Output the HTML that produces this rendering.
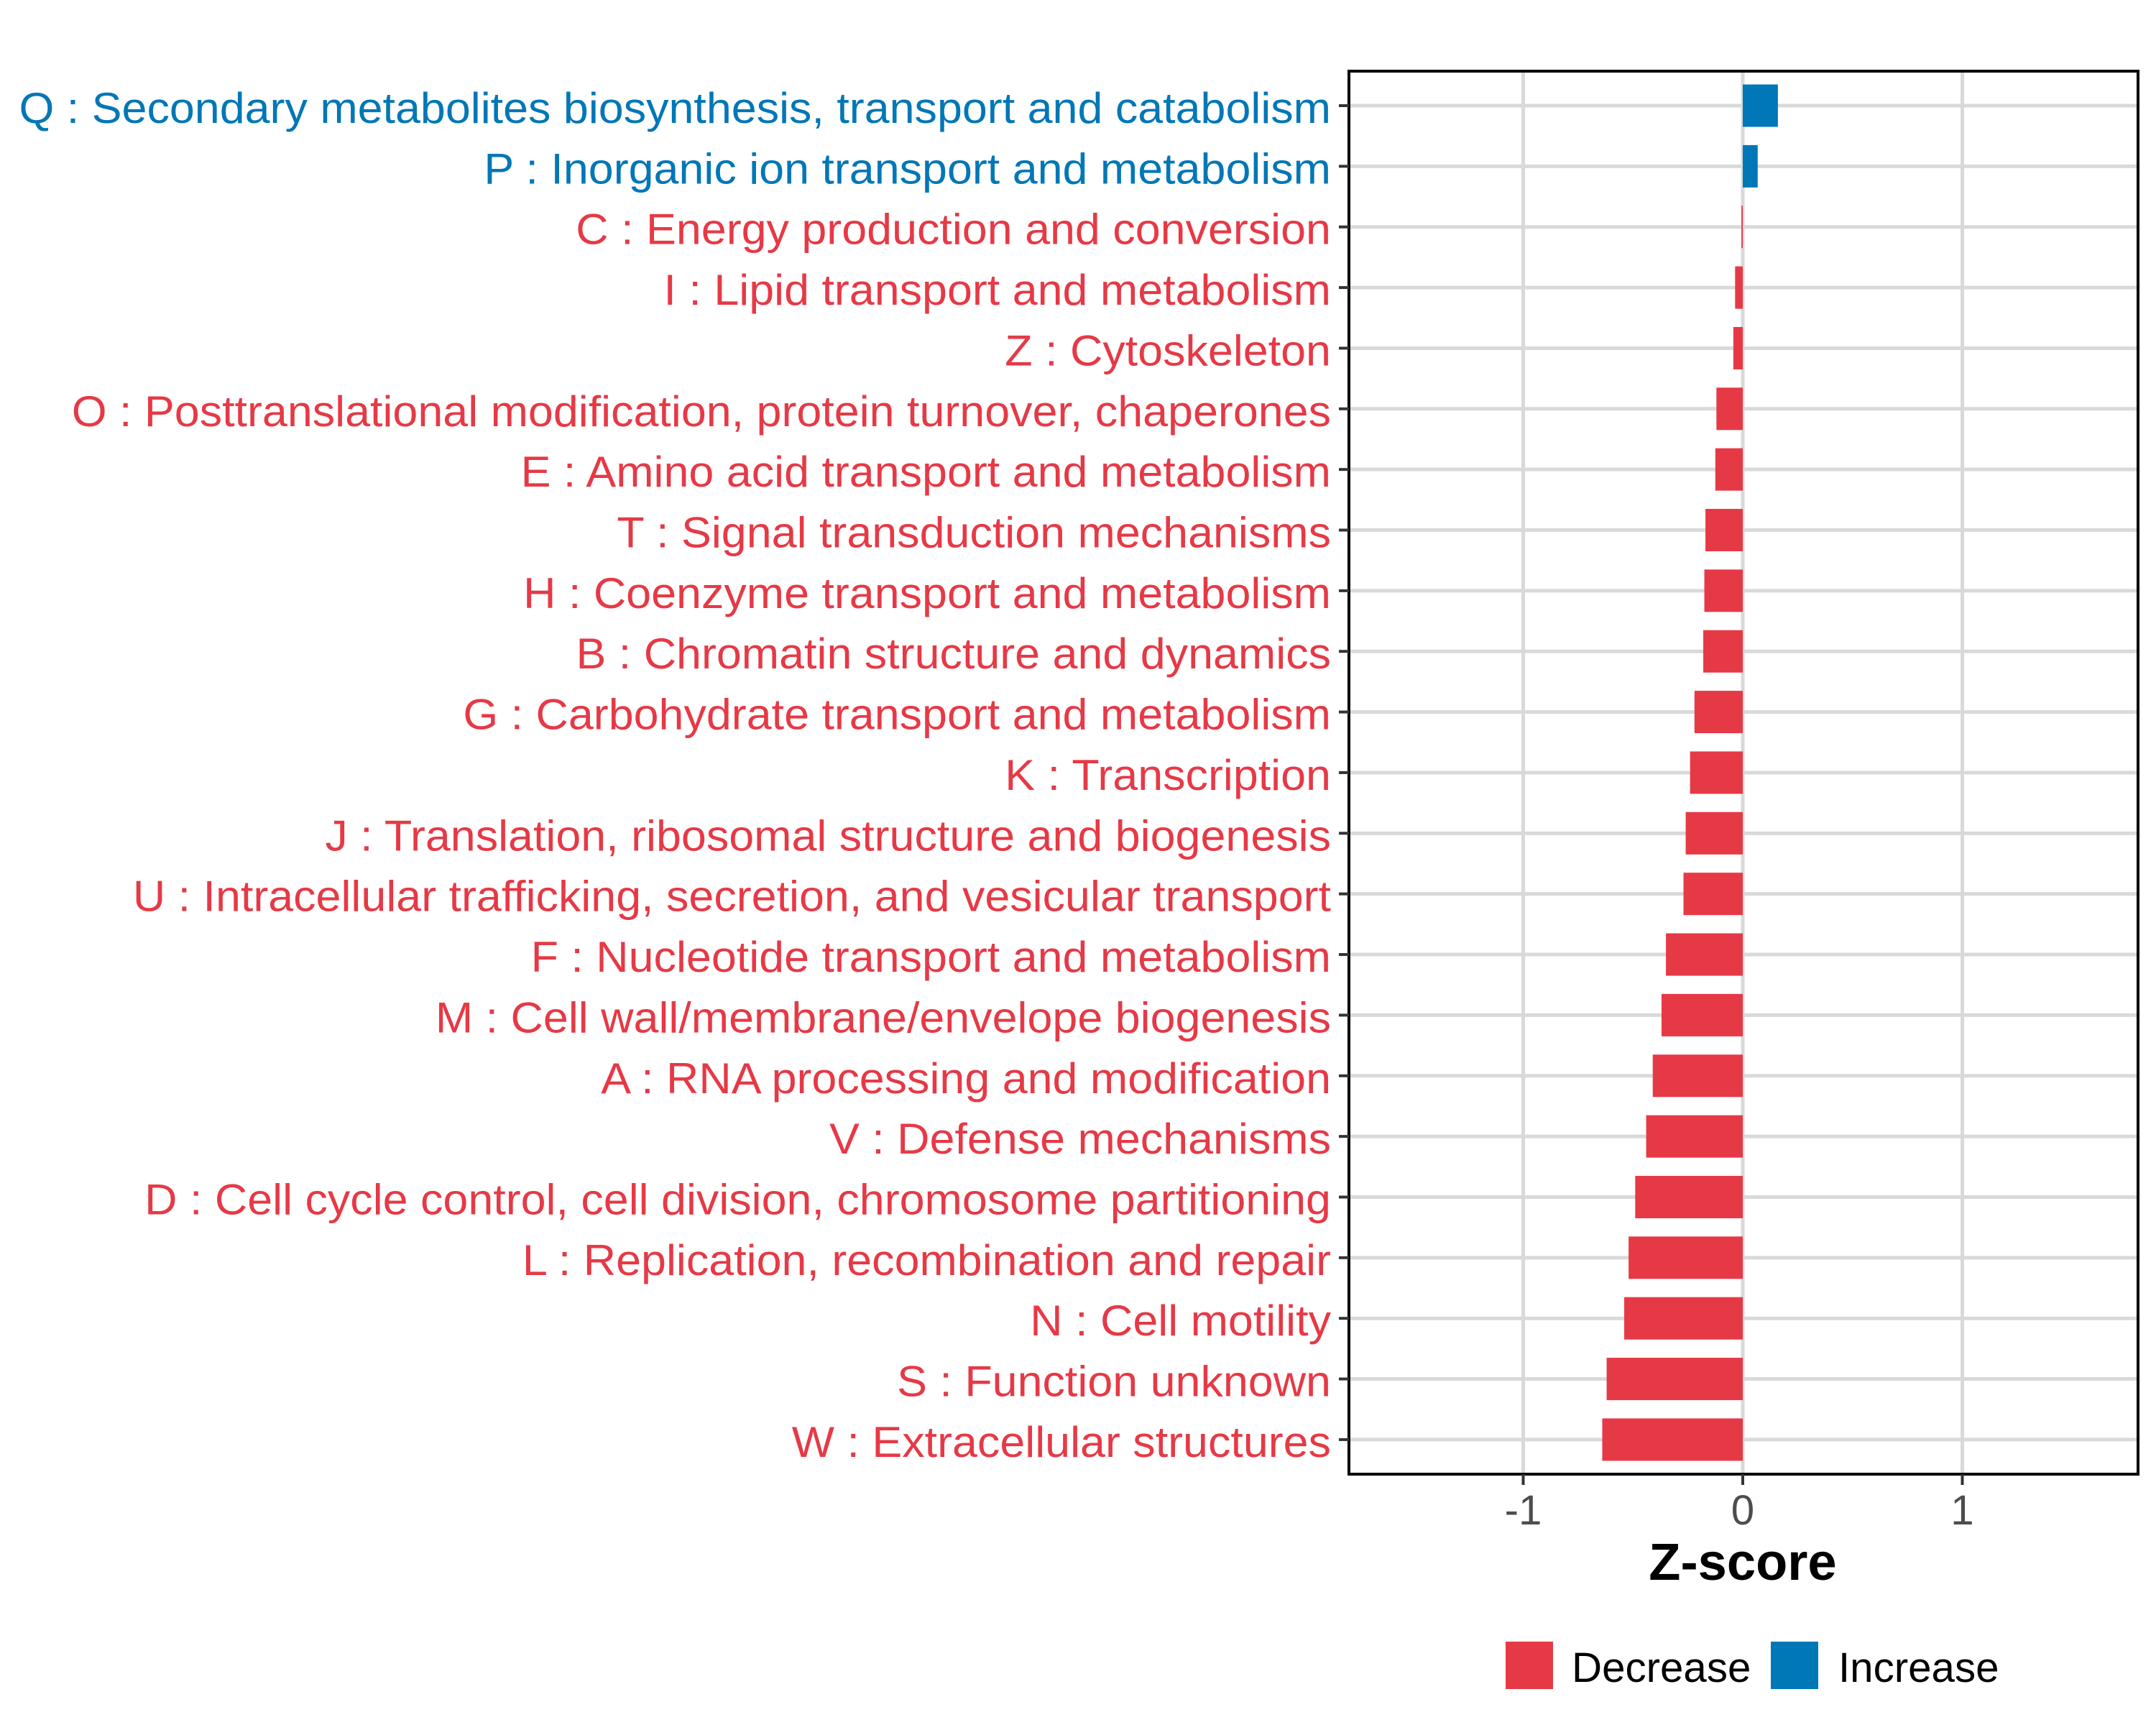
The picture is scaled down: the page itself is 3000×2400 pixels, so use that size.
<!DOCTYPE html>
<html><head><meta charset="utf-8"><style>
html,body{margin:0;padding:0;background:#fff;}
svg{display:block;}
text{font-family:"Liberation Sans",Arial,sans-serif;}
</style></head><body>
<svg id="chart" width="3000" height="2400" viewBox="0 0 3000 2400" xmlns="http://www.w3.org/2000/svg">
<rect x="0" y="0" width="3000" height="2400" fill="#fff"/>
<g id="grid"></g>
<g id="bars"></g>
<rect x="1877" y="99" width="1098" height="1952" fill="none" stroke="#000" stroke-width="4"/>
<g id="yaxis"></g>
<g id="xaxis"></g>
<text id="xtitle" x="2425" y="2198" text-anchor="middle" font-size="72" font-weight="bold" fill="#000">Z-score</text>
<g>
  <rect x="2095" y="2284" width="66" height="66" fill="#E63946"/>
  <text class="sc" x="2187" y="2340" font-size="58" fill="#000">Decrease</text>
  <rect x="2464" y="2284" width="66" height="66" fill="#0077B6"/>
  <text class="sc" x="2558" y="2340" font-size="58" fill="#000">Increase</text>
</g>
</svg>
<script>
const categories = [
"Q : Secondary metabolites biosynthesis, transport and catabolism",
"P : Inorganic ion transport and metabolism",
"C : Energy production and conversion",
"I : Lipid transport and metabolism",
"Z : Cytoskeleton",
"O : Posttranslational modification, protein turnover, chaperones",
"E : Amino acid transport and metabolism",
"T : Signal transduction mechanisms",
"H : Coenzyme transport and metabolism",
"B : Chromatin structure and dynamics",
"G : Carbohydrate transport and metabolism",
"K : Transcription",
"J : Translation, ribosomal structure and biogenesis",
"U : Intracellular trafficking, secretion, and vesicular transport",
"F : Nucleotide transport and metabolism",
"M : Cell wall/membrane/envelope biogenesis",
"A : RNA processing and modification",
"V : Defense mechanisms",
"D : Cell cycle control, cell division, chromosome partitioning",
"L : Replication, recombination and repair",
"N : Cell motility",
"S : Function unknown",
"W : Extracellular structures"];
const zscores = [0.16,0.068,-0.006,-0.035,-0.043,-0.12,-0.125,-0.17,-0.175,-0.18,-0.22,-0.24,-0.26,-0.27,-0.35,-0.37,-0.41,-0.44,-0.49,-0.52,-0.54,-0.62,-0.64];
const xTicks = [-1,0,1];
const xTickLabels = ["-1","0","1"];

const NS="http://www.w3.org/2000/svg";
const X0=2425, UNIT=305.5, Y0=147, STEP=84.36, BARH=59;
const xs=v=>X0+v*UNIT;
const ys=i=>Y0+i*STEP;
const RED="#E63946", BLUE="#0077B6";
function mk(tag,attrs,parent){const e=document.createElementNS(NS,tag);for(const k in attrs)e.setAttribute(k,attrs[k]);parent.appendChild(e);return e;}
const grid=document.getElementById('grid'),bars=document.getElementById('bars'),yax=document.getElementById('yaxis'),xax=document.getElementById('xaxis');
xTicks.forEach((t,i)=>{
  const l=mk('line',{x1:xs(t),x2:xs(t),y1:99,y2:2051,stroke:'#D9D9D9','stroke-width':5},grid);
  
  
  const tk=mk('line',{x1:xs(t),x2:xs(t),y1:2051,y2:2066,stroke:'#333','stroke-width':4},xax);
  
  
  const tx=mk('text',{x:xs(t),y:2121,'text-anchor':'middle','font-size':58,fill:'#4D4D4D'},xax);
  tx.textContent=xTickLabels[i];
  
  
});
categories.forEach((c,i)=>{
  const y=ys(i);
  const g=mk('line',{x1:1877,x2:2975,y1:y,y2:y,stroke:'#D9D9D9','stroke-width':5},grid);
  
  
  const v=zscores[i];
  const col=v>=0?BLUE:RED;
  const b=mk('rect',{x:Math.min(xs(v),xs(0)),y:y-BARH/2,width:Math.max(Math.abs(xs(v)-xs(0)),1.5),height:BARH,fill:col},bars);
  
  
  const tk=mk('line',{x1:1863,x2:1877,y1:y,y2:y,stroke:'#333','stroke-width':4},yax);
  
  
  const tx=mk('text',{x:1852,y:y+24,'text-anchor':'end','font-size':60,fill:col,class:'lab'},yax);
  tx.textContent=c;
  
  
});
const labs=[...document.querySelectorAll('text.lab')];
const w=labs[0].getComputedTextLength();
const sx=Math.min(1.2,Math.max(0.6,1826/w));
labs.forEach(t=>{t.setAttribute('transform','translate(1852,0) scale('+sx+',1) translate(-1852,0)');});
const sx2=sx*0.96;
document.querySelectorAll('#xaxis text, #xtitle').forEach(t=>{const x=+t.getAttribute('x');t.setAttribute('transform','translate('+x+',0) scale('+sx2+',1) translate('+(-x)+',0)');});
document.querySelectorAll('text.sc').forEach(t=>{const x=+t.getAttribute('x');t.setAttribute('transform','translate('+x+',0) scale('+sx2+',1) translate('+(-x)+',0)');});
</script>
</body></html>
